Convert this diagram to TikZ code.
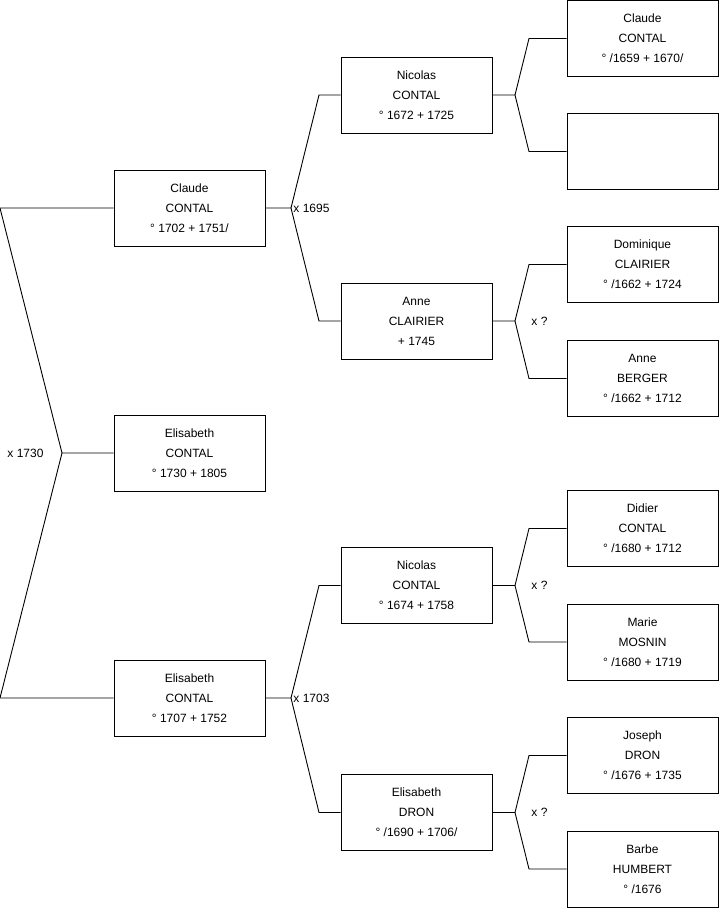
\documentclass[tikz,border=0pt]{standalone}
\usepackage{fontspec}
\setmainfont{Liberation Sans}
\usetikzlibrary{positioning}

\begin{document}
\begin{tikzpicture}[x=1pt,y=-1pt,line width=0.9pt,
    p/.style={draw,minimum width=151pt,minimum height=76pt,inner sep=0pt,
      align=center,font=\fontsize{12}{20}\selectfont},
    m/.style={inner sep=0pt,font=\fontsize{12}{14}\selectfont}]
  \useasboundingbox (0,0) rectangle (719,908);
  % first column
  \node[p] (c1) at (189.5,208) {Claude\\CONTAL\\° 1702 + 1751/};
  \node[p] (e1) at (189.5,453) {Elisabeth\\CONTAL\\° 1730 + 1805};
  \node[p] (e2) at (189.5,698) {Elisabeth\\CONTAL\\° 1707 + 1752};
  % second column
  \node[p] (n1) at (416.5,95) {Nicolas\\CONTAL\\° 1672 + 1725};
  \node[p] (a1) at (416.5,321) {Anne\\CLAIRIER\\+ 1745};
  \node[p] (n2) at (416.5,585.5) {Nicolas\\CONTAL\\° 1674 + 1758};
  \node[p] (d1) at (416.5,812.5) {Elisabeth\\DRON\\° /1690 + 1706/};
  % third column
  \node[p] (c2) at (642.5,38.5) {Claude\\CONTAL\\° /1659 + 1670/};
  \node[p] (x0) at (642.5,151.5) {};
  \node[p] (d2) at (642.5,264.5) {Dominique\\CLAIRIER\\° /1662 + 1724};
  \node[p] (b1) at (642.5,378.5) {Anne\\BERGER\\° /1662 + 1712};
  \node[p] (c3) at (642.5,528.5) {Didier\\CONTAL\\° /1680 + 1712};
  \node[p] (m1) at (642.5,642) {Marie\\MOSNIN\\° /1680 + 1719};
  \node[p] (d3) at (642.5,755.5) {Joseph\\DRON\\° /1676 + 1735};
  \node[p] (h1) at (642.5,869) {Barbe\\HUMBERT\\° /1676};
  % junctions
  \coordinate (j0) at (62,453);
  \coordinate (j0a) at (0,208);
  \coordinate (j0b) at (0,698);
  \coordinate (j1) at (291,208);
  \coordinate (j1a) at (319,95);
  \coordinate (j1b) at (319,321);
  \coordinate (j2) at (291,698);
  \coordinate (j2a) at (319,585.5);
  \coordinate (j2b) at (319,812.5);
  \coordinate (k1) at (515,95);
  \coordinate (k1a) at (529,38.5);
  \coordinate (k1b) at (529,151.5);
  \coordinate (k2) at (515,321);
  \coordinate (k2a) at (529,264.5);
  \coordinate (k2b) at (529,378.5);
  \coordinate (k3) at (515,585.5);
  \coordinate (k3a) at (529,528.5);
  \coordinate (k3b) at (529,642);
  \coordinate (k4) at (515,812.5);
  \coordinate (k4a) at (529,755.5);
  \coordinate (k4b) at (529,869);
  \draw (e1) -- (j0) -- (j0a) -- (c1); \draw (j0) -- (j0b) -- (e2);
  \draw (c1) -- (j1) -- (j1a) -- (n1); \draw (j1) -- (j1b) -- (a1);
  \draw (e2) -- (j2) -- (j2a) -- (n2); \draw (j2) -- (j2b) -- (d1);
  \draw (n1) -- (k1) -- (k1a) -- (c2); \draw (k1) -- (k1b) -- (x0);
  \draw (a1) -- (k2) -- (k2a) -- (d2); \draw (k2) -- (k2b) -- (b1);
  \draw (n2) -- (k3) -- (k3a) -- (c3); \draw (k3) -- (k3b) -- (m1);
  \draw (d1) -- (k4) -- (k4a) -- (d3); \draw (k4) -- (k4b) -- (h1);
  % marriages
  \node[m,anchor=west] (w0) at (7,453) {x 1730};
  \node[m,anchor=west] (w1) at (293,208) {x 1695};
  \node[m,anchor=west] (w2) at (293,698) {x 1703};
  \node[m,anchor=west] (w3) at (531,321) {x ?};
  \node[m,anchor=west] (w4) at (531,585.5) {x ?};
  \node[m,anchor=west] (w5) at (531,812.5) {x ?};
\end{tikzpicture}
\end{document}
